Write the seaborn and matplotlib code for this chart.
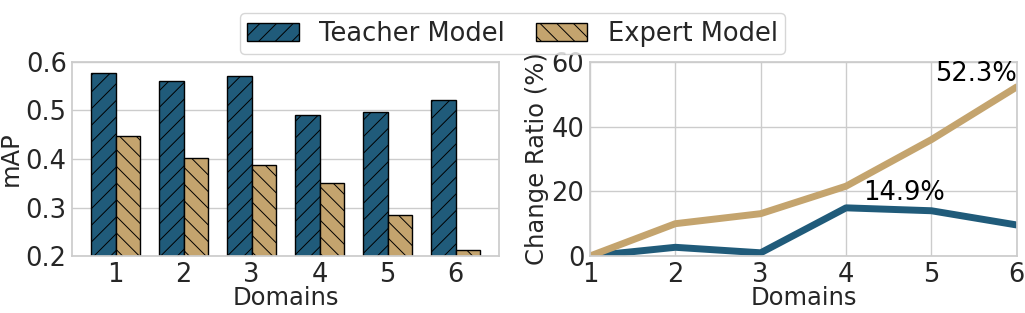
import matplotlib
matplotlib.use("Agg")
import matplotlib.pyplot as plt
from matplotlib.patches import Patch
import numpy as np
import pandas as pd
import seaborn as sns

TEACHER_COLOR = "#205b7a"
EXPERT_COLOR  = "#c4a46e"

domains      = [1, 2, 3, 4, 5, 6]
teacher_map  = [0.577, 0.561, 0.571, 0.491, 0.497, 0.522]
expert_map   = [0.447, 0.403, 0.388, 0.351, 0.285, 0.212]
teacher_chg  = [0.0, 2.7, 1.0, 14.9, 14.0, 9.6]
expert_chg   = [0.0, 10.0, 13.1, 21.6, 36.0, 52.3]
model_names  = ["Teacher Model", "Expert Model"]

sns.set_theme(style="whitegrid")
plt.rcParams["font.family"] = ["DejaVu Sans"]
plt.rcParams["hatch.linewidth"] = 0.7

TICK_FS  = 18.5
LABEL_FS = 17.5

bar_df = pd.DataFrame({
    "Domains": domains * 2,
    "mAP": teacher_map + expert_map,
    "Model": [model_names[0]] * 6 + [model_names[1]] * 6,
})
line_df = pd.DataFrame({
    "Domains": domains * 2,
    "Change": teacher_chg + expert_chg,
    "Model": [model_names[0]] * 6 + [model_names[1]] * 6,
})
palette = {model_names[0]: TEACHER_COLOR, model_names[1]: EXPERT_COLOR}

fig, (ax1, ax2) = plt.subplots(1, 2, figsize=(10.25, 3.13), dpi=100)
fig.subplots_adjust(left=0.0705, right=0.992, top=0.802, bottom=0.182, wspace=0.213)

# --- bars ---
sns.barplot(data=bar_df, x="Domains", y="mAP", hue="Model", palette=palette,
            width=0.72, edgecolor="black", linewidth=1, saturation=1,
            legend=False, ax=ax1)
n = len(domains)
for i, p in enumerate(ax1.patches[:2 * n]):
    p.set_hatch("//" if i < n else "\\\\")
ax1.set_ylim(0.2, 0.6)
ax1.set_yticks([0.2, 0.3, 0.4, 0.5, 0.6])
ax1.set_xlim(-0.64, 5.64)
ax1.set_xlabel("Domains", fontsize=LABEL_FS, labelpad=-1)
ax1.set_ylabel("mAP", fontsize=LABEL_FS, labelpad=2)
ax1.tick_params(labelsize=TICK_FS, length=0, pad=4)

# --- change ratio lines ---
sns.lineplot(data=line_df, x="Domains", y="Change", hue="Model", palette=palette,
             linewidth=5, legend=False, ax=ax2)
ax2.set_xlim(1, 6)
ax2.set_ylim(0, 60)
ax2.set_xticks(domains)
ax2.set_yticks([0, 20, 40, 60])
ax2.set_xlabel("Domains", fontsize=LABEL_FS, labelpad=-1)
ax2.set_ylabel("Change Ratio (%)", fontsize=LABEL_FS, labelpad=2)
ax2.tick_params(labelsize=TICK_FS, length=0, pad=4)
ax2.text(6, expert_chg[-1], f"{expert_chg[-1]}%", ha="right", va="bottom",
         fontsize=TICK_FS, color="black")
ax2.text(4.2, teacher_chg[3] + 0.5, f"{teacher_chg[3]}%", ha="left", va="bottom",
         fontsize=TICK_FS, color="black")

handles = [
    Patch(facecolor=TEACHER_COLOR, edgecolor="black", hatch="//", label=model_names[0]),
    Patch(facecolor=EXPERT_COLOR, edgecolor="black", hatch="\\\\", label=model_names[1]),
]
fig.legend(handles=handles, loc="upper center", ncol=2, fontsize=TICK_FS,
           bbox_to_anchor=(0.5, 1.0), frameon=True, handlelength=2.0,
           columnspacing=1.2, borderpad=0.3)

fig.savefig("out.png", dpi=100)
